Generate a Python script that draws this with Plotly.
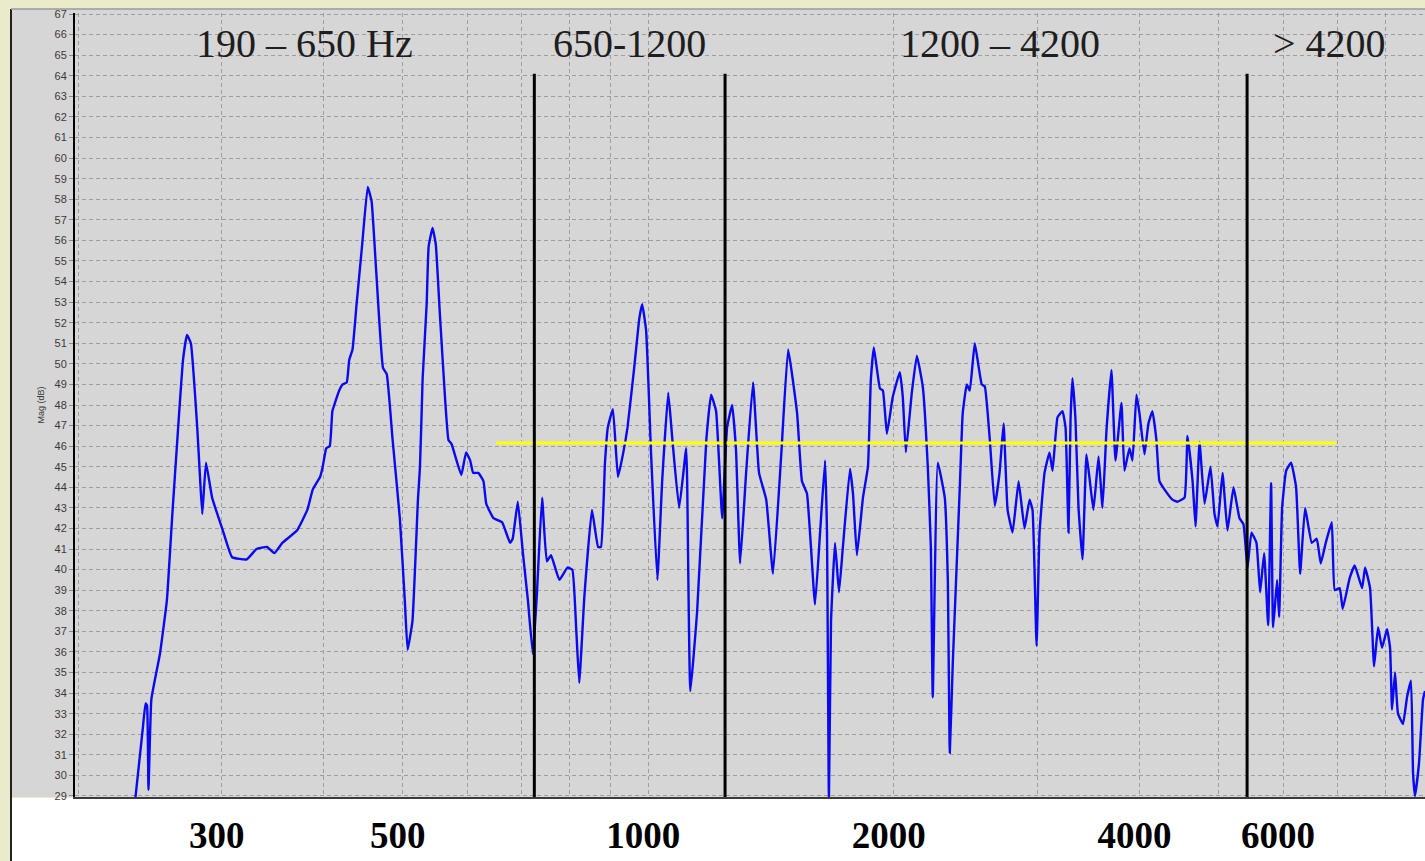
import plotly.graph_objects as go
import math

# ---------------- data ----------------
freq_hz = [
    235, 240, 242, 243, 244, 246, 252, 257, 261, 265, 269, 272, 275, 280, 282, 284, 287, 292,
    301, 309, 322, 331, 341, 348, 356, 371, 382, 388, 396, 399, 403, 407, 410, 413, 418, 422,
    427, 430, 434, 439, 446, 453, 458, 464, 473, 478, 486, 496, 503, 507, 514, 522, 525, 528,
    529, 535, 538, 544, 549, 555, 564, 569, 574, 590, 598, 605, 610, 619, 628, 633, 646, 662,
    677, 682, 692, 702, 712, 722, 730, 741, 751, 760, 778, 796, 807, 816, 823, 835, 853, 868,
    875, 885, 892, 905, 918, 931, 943, 961, 975, 983, 994, 1008, 1026, 1040, 1058, 1070, 1091,
    1113, 1116, 1126, 1148, 1178, 1194, 1211, 1232, 1249, 1267, 1281, 1296, 1318, 1344, 1367,
    1395, 1422, 1455, 1484, 1522, 1543, 1565, 1601, 1624, 1647, 1656, 1665, 1675, 1694, 1713,
    1732, 1767, 1782, 1802, 1833, 1859, 1874, 1890, 1923, 1939, 1961, 1994, 2034, 2051, 2069,
    2104, 2134, 2170, 2201, 2220, 2232, 2264, 2309, 2329, 2342, 2362, 2409, 2429, 2457, 2478,
    2513, 2563, 2585, 2621, 2659, 2695, 2726, 2757, 2796, 2844, 2892, 2933, 2958, 2992, 3017,
    3060, 3103, 3130, 3174, 3219, 3247, 3274, 3293, 3311, 3339, 3368, 3406, 3444, 3473, 3513,
    3564, 3604, 3645, 3696, 3738, 3802, 3834, 3889, 3922, 3966, 4000, 4057, 4103, 4149, 4196,
    4232, 4292, 4390, 4452, 4543, 4581, 4647, 4686, 4739, 4807, 4888, 4944, 4986, 5057, 5128,
    5216, 5305, 5365, 5426, 5487, 5565, 5623, 5687, 5752, 5800, 5833, 5899, 5933, 5983, 6051,
    6137, 6224, 6295, 6384, 6505, 6598, 6672, 6767, 6883, 6941, 7039, 7099, 7241, 7344, 7498,
    7562, 7669, 7756, 7844, 7933, 8045, 8114, 8159, 8229, 8298, 8416, 8512, 8608, 8658, 8706,
    8805, 8905, 8955,
]
mag_db = [
    28.8, 32.2, 33.5, 33.4, 29.3, 33.7, 35.9, 38.5, 42.7, 46.6, 50.2, 51.4, 51.0, 46.9, 44.7, 42.7, 45.2, 43.5,
    41.9, 40.6, 40.5, 41.0, 41.1, 40.8, 41.3, 41.9, 42.9, 43.9, 44.5, 45.0, 45.9, 46.0, 47.7, 48.1, 48.7, 49.0,
    49.1, 50.2, 50.7, 52.9, 55.8, 58.6, 57.9, 54.5, 49.8, 49.5, 46.3, 42.5, 38.5, 36.1, 37.5, 43.4, 45.0, 48.2,
    49.3, 52.9, 55.7, 56.6, 55.8, 52.6, 48.1, 46.3, 46.1, 44.6, 45.7, 45.3, 44.7, 44.7, 44.3, 43.2, 42.5, 42.3,
    41.3, 41.5, 43.3, 40.8, 38.5, 35.9, 38.7, 43.5, 40.4, 40.7, 39.5, 40.1, 40.0, 37.1, 34.5, 38.7, 42.9, 41.1,
    41.1, 45.2, 46.9, 47.8, 44.5, 45.6, 46.9, 49.8, 52.2, 52.9, 51.6, 45.6, 39.5, 44.3, 48.6, 46.4, 43.0,
    45.9, 44.3, 34.1, 38.0, 46.3, 48.5, 47.7, 42.5, 46.9, 48.0, 45.8, 40.3, 44.7, 49.1, 44.7,
    43.4, 39.8, 45.5, 50.7, 47.6, 44.3, 43.7, 38.3, 41.8, 45.3, 41.8, 28.8, 37.5, 41.3, 38.9,
    41.1, 44.9, 43.7, 40.7, 43.5, 45.0, 49.2, 50.8, 48.8, 48.7, 46.6, 48.4, 49.6, 48.4, 45.7,
    48.6, 50.4, 48.9, 45.0, 41.1, 33.8, 45.2, 43.5, 39.5, 31.1, 35.5, 44.0, 47.6, 49.0, 48.7,
    51.0, 49.0, 48.9, 46.4, 43.1, 44.7, 47.1, 42.9, 41.8, 44.3, 42.0, 43.4, 42.9, 36.3, 41.8,
    44.7, 45.7, 44.8, 47.4, 47.7, 46.9, 41.8, 47.3, 49.3, 47.3, 43.0, 40.5, 45.6, 44.5, 42.9,
    45.5, 43.0, 46.8, 49.7, 45.3, 48.1, 44.8, 45.9, 45.3, 48.5, 47.6, 45.6, 47.1, 47.7, 46.3,
    44.3, 43.9, 43.4, 43.3, 43.5, 46.5, 44.3, 42.1, 46.2, 43.2, 45.0, 42.7, 42.1, 44.7, 41.9,
    44.0, 42.5, 42.2, 40.1, 41.8, 41.3, 38.9, 40.8, 37.3, 44.2, 37.2, 39.5, 37.7, 43.0, 44.8,
    45.2, 44.0, 39.8, 43.0, 41.3, 41.5, 40.3, 41.3, 42.3, 39.0, 39.1, 38.1, 39.6, 40.2, 39.1,
    40.1, 39.1, 35.3, 37.2, 36.2, 37.1, 36.2, 33.2, 35.0, 33.0, 32.5, 33.8, 34.6, 30.1, 29.0,
    30.6, 33.7, 34.1,
]

band_edges_hz = [725, 1242, 5420]
band_edge_top_db = 64.1
mean_level_db = 46.15
mean_span_hz = [651, 6970]

band_labels = ["190 – 650 Hz", "650-1200", "1200 – 4200", "> 4200"]
band_label_hz = [379, 948, 2695, 6844]
band_label_db = 65.55

grid_hz = [200, 300, 400, 500, 600, 700, 800, 900,
           1000, 2000, 3000, 4000, 5000, 6000, 7000, 8000]
x_label_hz = [300, 500, 1000, 2000, 4000, 6000]
y_ticks = list(range(29, 68))

x_range_hz = [198.3, 8955]
y_range_db = [28.95, 67.05]

# ---------------- figure ----------------
fig = go.Figure()

fig.add_trace(go.Scatter(
    x=freq_hz, y=mag_db, mode="lines",
    line=dict(color="#0a0af2", width=2.4, shape="spline", smoothing=0.35),
    hoverinfo="x+y", showlegend=False,
))

fig.add_trace(go.Scatter(
    x=mean_span_hz, y=[mean_level_db] * len(mean_span_hz), mode="lines",
    line=dict(color="#ffff00", width=3), showlegend=False,
))

vx, vy = [], []
for f in band_edges_hz:
    vx += [f, f, None]
    vy += [band_edge_top_db, y_range_db[0], None]
fig.add_trace(go.Scatter(
    x=vx, y=vy, mode="lines", line=dict(color="#000000", width=3),
    showlegend=False, hoverinfo="skip",
))

ticktext = [str(v) if v in x_label_hz else "" for v in grid_hz]

for txt, fx in zip(band_labels, band_label_hz):
    fig.add_annotation(
        x=math.log10(fx), y=band_label_db, text=txt, showarrow=False,
        xanchor="center", yanchor="middle",
        font=dict(family="Liberation Serif, Times New Roman, serif", size=40, color="#1e1e1e"),
    )

W, H = 1425, 861
L, R, T, B = 75, 0, 13, 64
pw, ph = W - L - R, H - T - B

def px(xp):
    return (xp - L) / pw

def py(yp):
    return (H - B - yp) / ph

shapes = [
    dict(type="rect", xref="paper", yref="paper", x0=px(11), x1=px(W + 5), y0=py(797), y1=py(9),
         fillcolor="#d6d6d6", line=dict(width=0), layer="below"),
    dict(type="rect", xref="paper", yref="paper", x0=px(11), x1=px(W + 5), y0=py(H + 5), y1=py(798),
         fillcolor="#ffffff", line=dict(width=0), layer="below"),
    dict(type="line", xref="paper", yref="paper", x0=px(11), x1=px(11), y0=py(H + 5), y1=py(9),
         line=dict(color="#222222", width=2), layer="below"),
    dict(type="line", xref="paper", yref="paper", x0=px(11), x1=px(W + 5), y0=py(9), y1=py(9),
         line=dict(color="#9a9a9a", width=1.5), layer="below"),
]

fig.update_layout(
    width=W, height=H,
    margin=dict(l=L, r=R, t=T, b=B, pad=0),
    paper_bgcolor="#e9ebca",
    plot_bgcolor="#d8d8d8",
    shapes=shapes,
    showlegend=False,
    xaxis=dict(
        type="log",
        range=[math.log10(x_range_hz[0]), math.log10(x_range_hz[1])],
        tickmode="array", tickvals=grid_hz, ticktext=ticktext,
        showgrid=True, gridcolor="#9e9e9e", griddash="4px,3px", gridwidth=1,
        ticks="", ticklabelstandoff=5, ticklabelshift=-5,
        tickfont=dict(family="Liberation Serif, Times New Roman, serif", size=37,
                      color="#000000", weight="bold"),
        showline=True, linecolor="#3a3a3a", linewidth=2,
        zeroline=False,
    ),
    yaxis=dict(
        range=y_range_db,
        tickmode="array", tickvals=y_ticks,
        showgrid=True, gridcolor="#9e9e9e", griddash="4px,3px", gridwidth=1,
        ticks="outside", ticklen=4, tickcolor="#8a8a8a",
        tickfont=dict(family="Liberation Sans, Arial, sans-serif", size=11, color="#3a3a3a"),
        showline=True, linecolor="#000000", linewidth=2,
        zeroline=False,
        title=dict(text="Mag (dB)", standoff=8,
                   font=dict(family="Liberation Sans, Arial, sans-serif", size=9, color="#3a3a3a")),
    ),
)

fig.write_html(
    "out.html",
    config={"displayModeBar": False},
    post_script="document.body.style.margin='0';document.body.style.overflow='hidden';",
)
